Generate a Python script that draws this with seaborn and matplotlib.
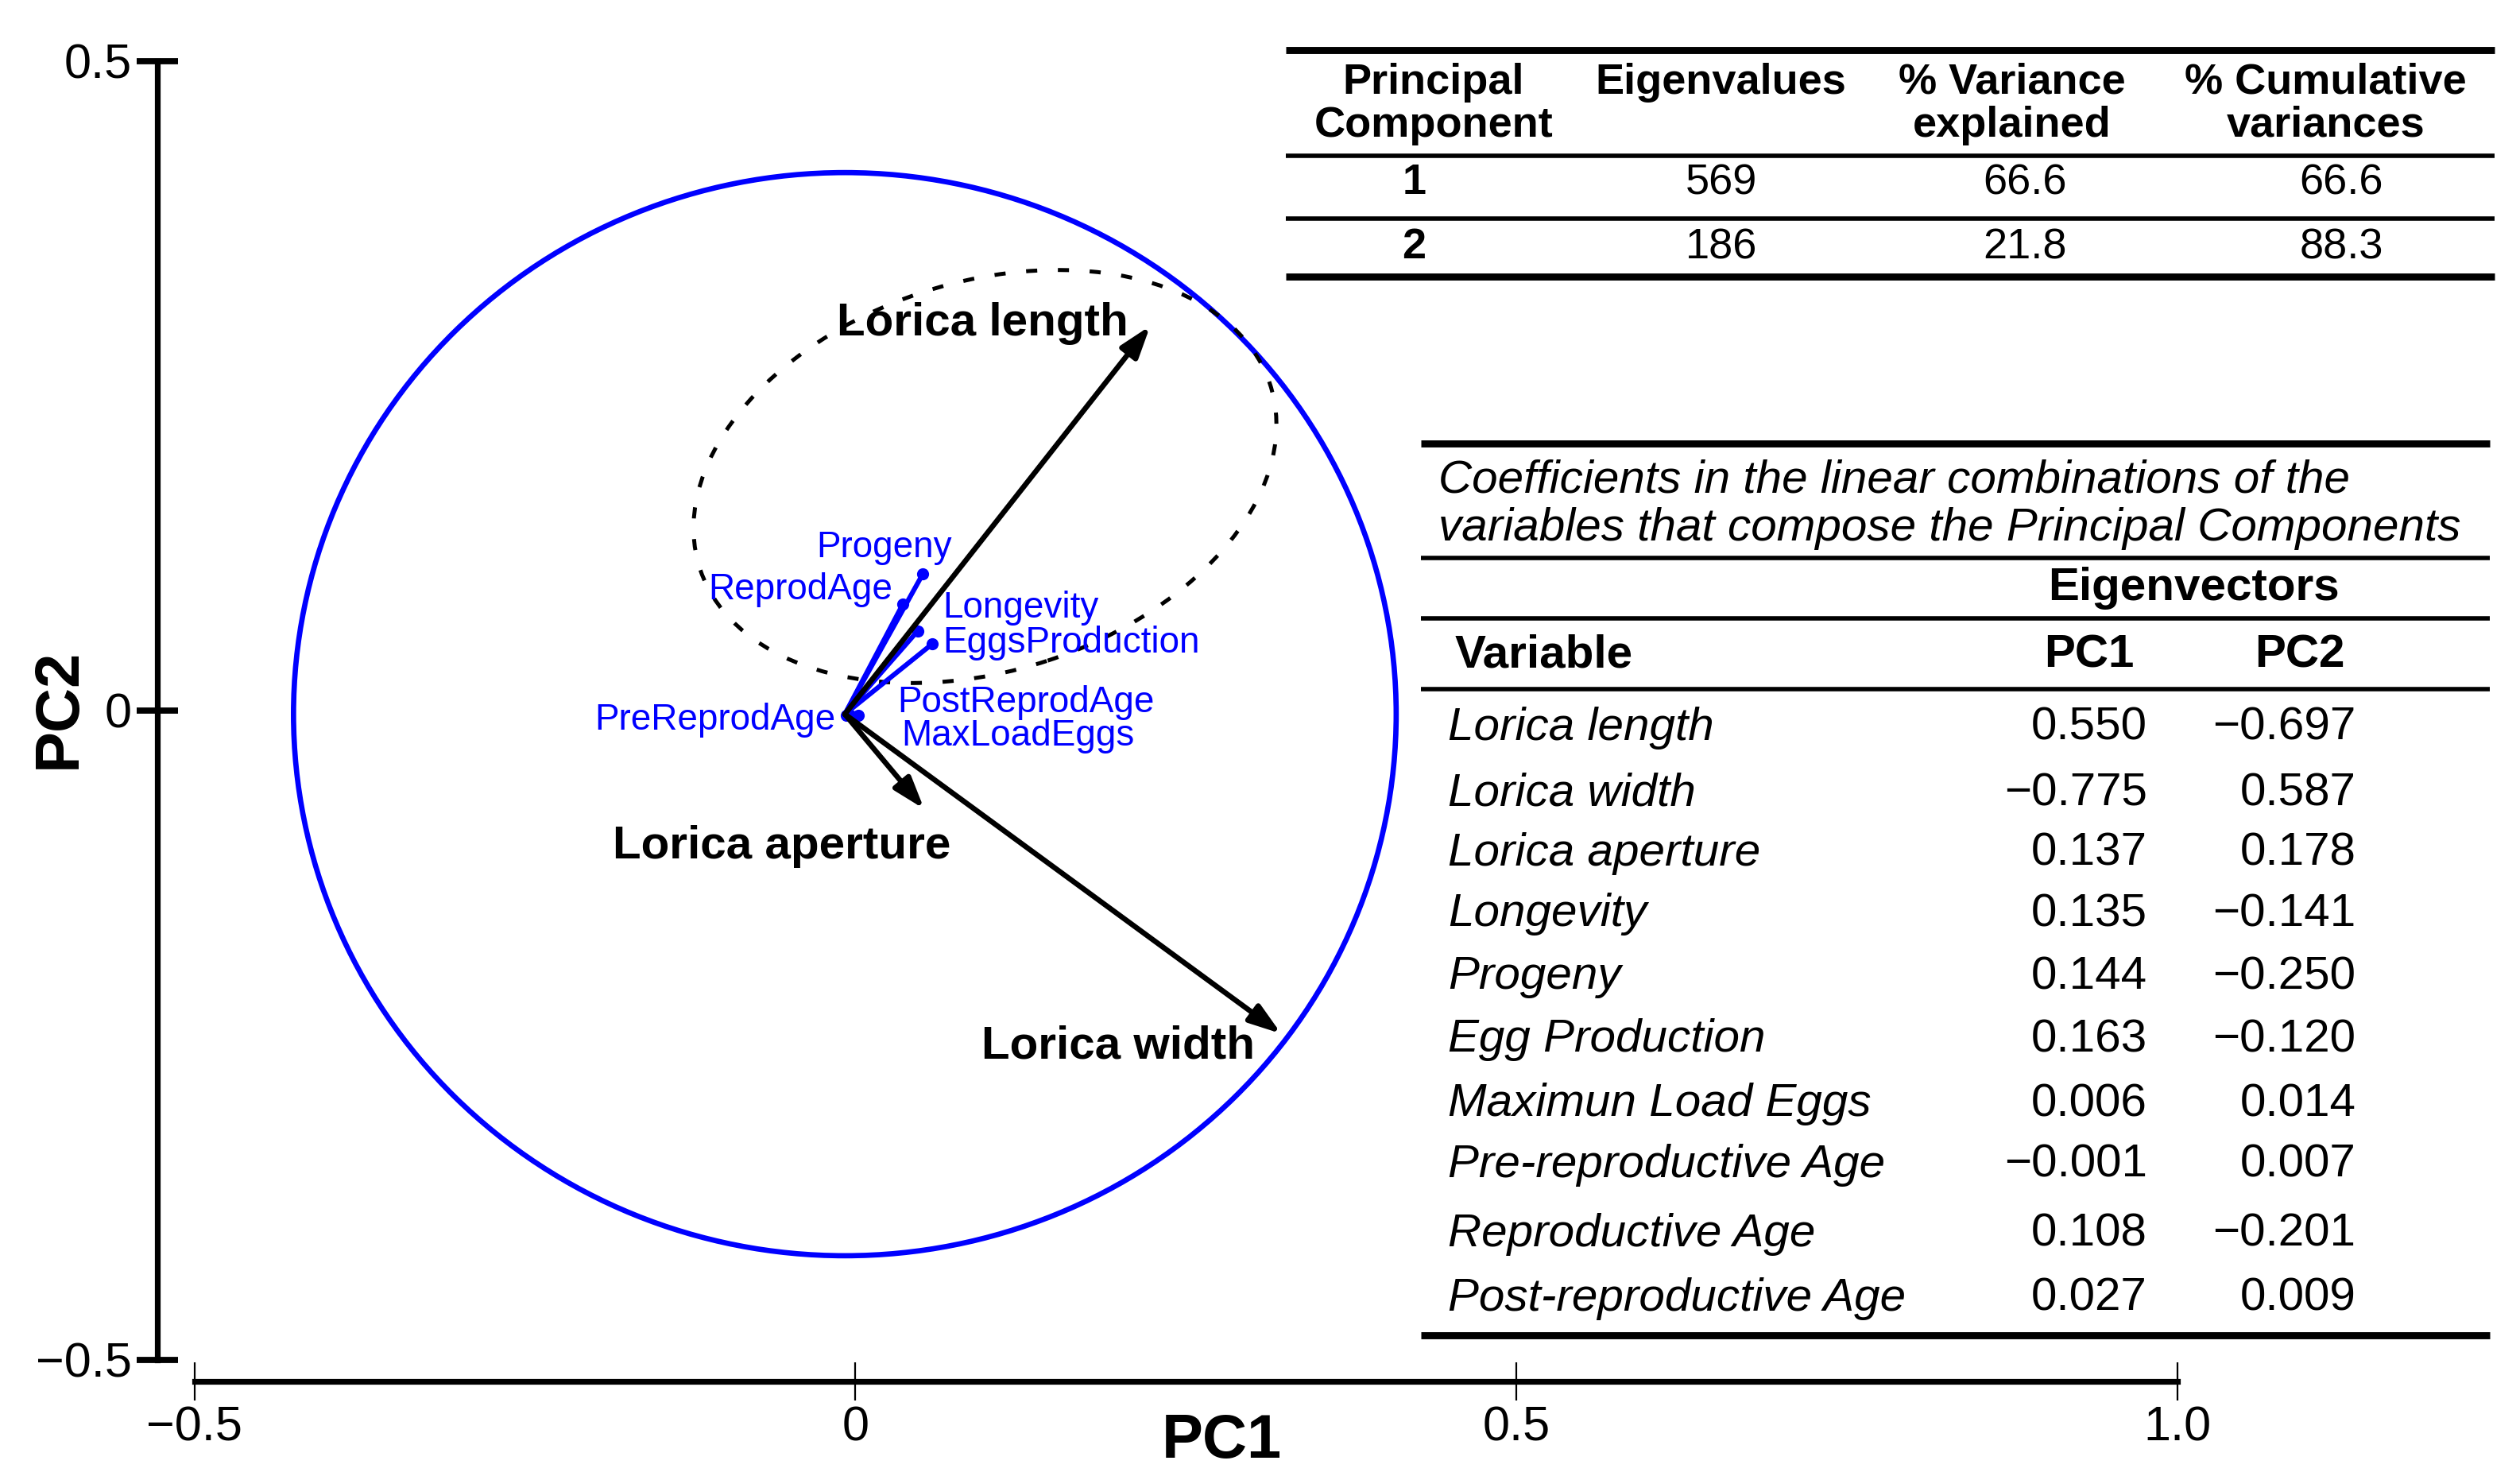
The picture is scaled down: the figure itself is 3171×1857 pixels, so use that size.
import numpy as np
import pandas as pd
import matplotlib
matplotlib.use('Agg')
import matplotlib.pyplot as plt
from matplotlib.patches import Circle, Ellipse
import seaborn as sns

# --- data ---
origin = (-0.008, -0.003)

big_vars = ['Lorica length', 'Lorica width', 'Lorica aperture']
big_x = [0.223, 0.322, 0.052]
big_y = [0.296, -0.249, -0.076]

small_vars = ['Progeny', 'ReprodAge', 'Longevity', 'EggsProduction',
              'PostReprodAge', 'MaxLoadEggs', 'PreReprodAge']
small_x = [0.051, 0.036, 0.047, 0.058, 0.002, -0.004, -0.007]
small_y = [0.105, 0.082, 0.061, 0.051, -0.004, -0.004, -0.004]

circle_r = 0.417
ell_center = (0.098, 0.18)
ell_w, ell_h, ell_angle = 0.454, 0.299, 18.5

pc_ids = ['1', '2']
eigenvalues = ['569', '186']
pct_var = ['66.6', '21.8']
pct_cum = ['66.6', '88.3']

var_names = ['Lorica length', 'Lorica width', 'Lorica aperture', 'Longevity',
             'Progeny', 'Egg Production', 'Maximun Load Eggs',
             'Pre-reproductive Age', 'Reproductive Age', 'Post-reproductive Age']
pc1 = [0.550, -0.775, 0.137, 0.135, 0.144, 0.163, 0.006, -0.001, 0.108, 0.027]
pc2 = [-0.697, 0.587, 0.178, -0.141, -0.250, -0.120, 0.014, 0.007, -0.201, 0.009]

# label placements (data coords)
big_lab = [(0.096, 0.298), (0.199, -0.259), (-0.056, -0.105)]
small_lab = [((0.022, 0.125), 'center'), ((0.028, 0.093), 'right'),
             ((0.066, 0.079), 'left'), ((0.066, 0.052), 'left'),
             ((0.032, 0.006), 'left'), ((0.035, -0.020), 'left'),
             ((-0.015, -0.0075), 'right')]

sns.set_theme(style='white')
plt.rcParams['font.family'] = ['Liberation Sans', 'DejaVu Sans']
plt.rcParams['axes.unicode_minus'] = True
plt.rcParams['text.color'] = 'black'
plt.rcParams['axes.labelcolor'] = 'black'
plt.rcParams['xtick.color'] = 'black'
plt.rcParams['ytick.color'] = 'black'

fig = plt.figure(figsize=(15.855, 9.285), dpi=200)
ax = fig.add_axes([0, 0, 1, 1])
ax.set_xlim(-0.647, 1.259)
ax.set_ylim(-0.5896, 0.5469)
ax.set_facecolor('white')

for s in ['top', 'right']:
    ax.spines[s].set_visible(False)
ax.spines['left'].set_position(('data', -0.528))
ax.spines['left'].set_bounds(-0.5, 0.5)
ax.spines['bottom'].set_position(('data', -0.517))
ax.spines['bottom'].set_bounds(-0.5, 1.0)
for s in ['left', 'bottom']:
    ax.spines[s].set_linewidth(2.6)
    ax.spines[s].set_color('black')

ax.set_xticks([-0.5, 0, 0.5, 1.0])
ax.set_xticklabels(['\u22120.5', '0', '0.5', '1.0'])
ax.set_yticks([-0.5, 0, 0.5])
ax.set_yticklabels(['\u22120.5', '0', '0.5'])
ax.tick_params(axis='y', direction='inout', length=19, width=2.8, pad=2,
               labelsize=22, left=True, colors='black')
ax.tick_params(axis='x', direction='inout', length=17, width=0.8, pad=2.5,
               labelsize=22, bottom=True, colors='black')

ax.text(0.4847, 0.0233, 'PC1', transform=ax.transAxes, ha='center', va='center',
        fontsize=28, fontweight='bold')
ax.text(0.0235, 0.5198, 'PC2', transform=ax.transAxes, ha='center', va='center',
        fontsize=28, fontweight='bold', rotation=90)

# circle and ellipse
ax.add_patch(Circle(origin, circle_r, fill=False, edgecolor='#0000ff', lw=2.4, zorder=2))
ax.add_patch(Ellipse(ell_center, ell_w, ell_h, angle=ell_angle, fill=False,
                     edgecolor='black', lw=1.8, linestyle=(0, (2.8, 5.2)), zorder=2))

# blue loadings
for x, y in zip(small_x, small_y):
    ax.plot([origin[0], x], [origin[1], y], color='#0000ff', lw=2.2, zorder=3)
sns.scatterplot(x=small_x, y=small_y, ax=ax, color='#0000ff', s=30,
                edgecolor='#0000ff', linewidth=0, zorder=4, legend=False)
for name, (pos, ha) in zip(small_vars, small_lab):
    ax.text(pos[0], pos[1], name, color='#0000ff', fontsize=16.5, ha=ha, va='center')

# black arrows
for x, y in zip(big_x, big_y):
    ax.annotate('', xy=(x, y), xytext=origin,
                arrowprops=dict(arrowstyle='-|>,head_length=0.6,head_width=0.2',
                                lw=2.4, color='black', mutation_scale=20,
                                shrinkA=0, shrinkB=0), zorder=5)
for name, pos in zip(big_vars, big_lab):
    ax.text(pos[0], pos[1], name, fontsize=21, fontweight='bold', ha='center', va='center')

# --- table 1 ---
T = ax.transAxes
def rule(x0, x1, y, lw):
    ax.plot([x0, x1], [y, y], color='black', lw=lw, transform=T, clip_on=False,
            solid_capstyle='butt')

fs1 = 19.5
rule(0.5102, 0.9898, 0.9662, 3.2)
rule(0.5102, 0.9898, 0.8944, 2.0)
rule(0.5102, 0.9898, 0.8519, 2.0)
rule(0.5102, 0.9898, 0.8127, 3.2)
headers = [('Principal', 'Component'), ('Eigenvalues', ''),
           ('% Variance', 'explained'), ('% Cumulative', 'variances')]
head_x = [0.5689, 0.6830, 0.7985, 0.9228]
for (l1, l2), hx in zip(headers, head_x):
    ax.text(hx, 0.9440, l1, transform=T, ha='center', va='center', fontsize=fs1, fontweight='bold')
    if l2:
        ax.text(hx, 0.9150, l2, transform=T, ha='center', va='center', fontsize=fs1, fontweight='bold')
row_x = [0.5612, 0.6830, 0.8036, 0.9292]
row_y = [0.8760, 0.8324]
for i in range(2):
    ax.text(row_x[0], row_y[i], pc_ids[i], transform=T, ha='center', va='center',
            fontsize=fs1, fontweight='bold')
    for j, col in enumerate([eigenvalues, pct_var, pct_cum]):
        ax.text(row_x[j + 1], row_y[i], col[i], transform=T, ha='center', va='center', fontsize=fs1)

# --- table 2 ---
fs2 = 21
rule(0.5638, 0.9879, 0.6995, 3.2)
rule(0.5638, 0.9879, 0.6222, 2.0)
rule(0.5638, 0.9879, 0.5808, 2.0)
rule(0.5638, 0.9879, 0.5329, 2.0)
rule(0.5638, 0.9879, 0.0952, 3.2)
ax.text(0.5708, 0.6745, 'Coefficients in the linear combinations of the', transform=T,
        ha='left', va='center', fontsize=fs2, style='italic')
ax.text(0.5708, 0.6419, 'variables that compose the Principal Components', transform=T,
        ha='left', va='center', fontsize=fs2, style='italic')
ax.text(0.8705, 0.6016, 'Eigenvectors', transform=T, ha='center', va='center',
        fontsize=fs2, fontweight='bold')
ax.text(0.5772, 0.5558, 'Variable', transform=T, ha='left', va='center', fontsize=fs2, fontweight='bold')
ax.text(0.8291, 0.5558, 'PC1', transform=T, ha='center', va='center', fontsize=fs2, fontweight='bold')
ax.text(0.9126, 0.5558, 'PC2', transform=T, ha='center', va='center', fontsize=fs2, fontweight='bold')
var_y = [0.5068, 0.4622, 0.4219, 0.3805, 0.3381, 0.2956, 0.2520, 0.2107, 0.1639, 0.1203]
fmt = lambda v: ('%.3f' % v).replace('-', '\u2212')
for name, a, b, y in zip(var_names, pc1, pc2, var_y):
    ax.text(0.5746, y, name, transform=T, ha='left', va='center', fontsize=fs2, style='italic')
    ax.text(0.8520, y, fmt(a), transform=T, ha='right', va='center', fontsize=fs2)
    ax.text(0.9349, y, fmt(b), transform=T, ha='right', va='center', fontsize=fs2)

fig.savefig('out.png', dpi=200, facecolor='white')
